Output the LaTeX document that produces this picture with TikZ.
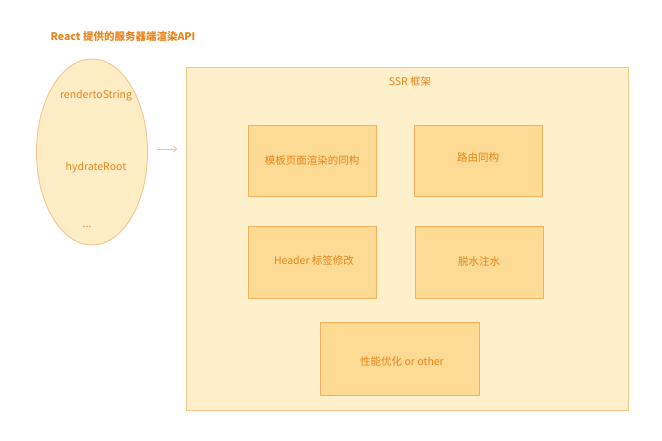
\documentclass[tikz,border=0pt]{standalone}
\usepackage{fontspec}
\setmainfont{Noto Sans CJK SC}
\usetikzlibrary{arrows.meta,shapes.geometric}
\definecolor{bigfill}{HTML}{FFF0CC}
\definecolor{bigline}{HTML}{F7C48C}
\definecolor{boxfill}{HTML}{FDDB94}
\definecolor{boxline}{HTML}{F2B25E}
\definecolor{txt}{HTML}{E8841A}
\definecolor{ellfill}{HTML}{FFEDC6}
\tikzset{
  lbl/.style={text=txt, font=\fontsize{10.5}{12}\selectfont},
  frame/.style={draw=bigline, fill=bigfill, line width=0.9pt},
  part/.style={draw=boxline, fill=boxfill, line width=0.9pt},
  conn/.style={draw=bigline, line width=0.8pt, -{Straight Barb[length=3pt,width=6pt]}}
}
\begin{document}
\begin{tikzpicture}[x=1pt,y=-1pt]
\useasboundingbox (0,0) rectangle (662,441);
% left ellipse
\node[lbl, font=\fontsize{10.5}{12}\selectfont\bfseries] (title) at (123,37) {React 提供的服务器端渲染API};
\node[draw=bigline, fill=ellfill, line width=0.9pt, ellipse, minimum width=111pt, minimum height=186pt, inner sep=0pt] (api) at (92,152) {};
\node[lbl] (r2s) at (96,96) {rendertoString};
\node[lbl] (hyd) at (96,168) {hydrateRoot};
\node[lbl] (dots) at (87,227) {...};
% SSR frame
\path[frame] (186,67) rectangle (628,410);
\coordinate (fr) at (186,67);
\node[lbl] (ssr) at (410,82) {SSR 框架};
\path[part] (248,125) rectangle (376,196);
\node[lbl] (b1) at (312,160.5) {模板页面渲染的同构};
\path[part] (414,125) rectangle (542,196);
\node[lbl] (b2) at (478,158) {路由同构};
\path[part] (248,226) rectangle (376,298);
\node[lbl] (b3) at (314,261) {Header 标签修改};
\path[part] (415,226) rectangle (543,298);
\node[lbl] (b4) at (479,261) {脱水注水};
\path[part] (320,322) rectangle (479,395);
\node[lbl] (b5) at (402,361) {性能优化 or other};
% arrow
\coordinate (a1) at (157,149);
\coordinate (a2) at (177,149);
\draw[conn] (a1) -- (a2);
\end{tikzpicture}
\end{document}
